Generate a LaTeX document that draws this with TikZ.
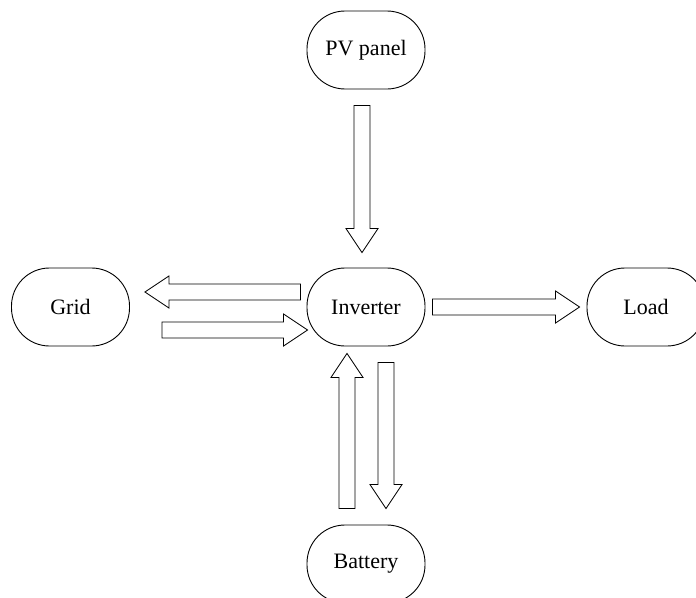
\documentclass[tikz,border=0pt]{standalone}
\usepackage{fontspec}
\setmainfont{Liberation Serif}
\usetikzlibrary{calc}

\tikzset{
  unit/.style={draw, line width=0.9pt, rounded corners=38pt,
    minimum width=118pt, minimum height=78pt, inner sep=0pt,
    font=\fontsize{22}{26}\selectfont},
  % hollow block arrow between two points
  flow/.style={draw, line width=0.8pt, line join=miter, to path={
    -- ($(\tikztostart)!8pt!90:(\tikztotarget)$)
    -- ($(\tikztotarget)!24pt!(\tikztostart)!8pt!-90:(\tikztostart)$)
    -- ($(\tikztotarget)!24pt!(\tikztostart)!16pt!-90:(\tikztostart)$)
    -- (\tikztotarget)
    -- ($(\tikztotarget)!24pt!(\tikztostart)!16pt!90:(\tikztostart)$)
    -- ($(\tikztotarget)!24pt!(\tikztostart)!8pt!90:(\tikztostart)$)
    -- ($(\tikztostart)!8pt!-90:(\tikztotarget)$)
    -- cycle}}
}

\begin{document}
\begin{tikzpicture}[x=1pt,y=-1pt]
\useasboundingbox (0,0) rectangle (696,597);

% Units
\node[unit] (pv)   at (366,50)   {PV panel};
\node[unit] (inv)  at (366,307)  {Inverter};
\node[unit] (grid) at (70.5,307) {Grid};
\node[unit] (load) at (646,307)  {Load};
\node[unit] (bat)  at (366,564)  {Battery};

% Arrow ends
\coordinate (pvout)   at ($(pv.south)+(-4,16)$);
\coordinate (pvin)    at ($(inv.north)+(-4,-15)$);
\coordinate (gridout) at ($(inv.west)+(-6,-15)$);
\coordinate (gridin)  at ($(grid.east)+(15,-15)$);
\coordinate (gridsrc) at ($(grid.east)+(32,23)$);
\coordinate (gridtip) at ($(inv.west)+(1,23)$);
\coordinate (loadout) at ($(inv.east)+(7,0)$);
\coordinate (loadin)  at ($(load.west)+(-7,0)$);
\coordinate (batsrc)  at ($(bat.north)+(-19,-16)$);
\coordinate (battip)  at ($(inv.south)+(-19,7)$);
\coordinate (chgout)  at ($(inv.south)+(20,16)$);
\coordinate (chgin)   at ($(bat.north)+(20,-16)$);

% Power flows
\draw[flow] (pvout) to (pvin);
\draw[flow] (gridout) to (gridin);
\draw[flow] (gridsrc) to (gridtip);
\draw[flow] (loadout) to (loadin);
\draw[flow] (batsrc) to (battip);
\draw[flow] (chgout) to (chgin);

\end{tikzpicture}
\end{document}
